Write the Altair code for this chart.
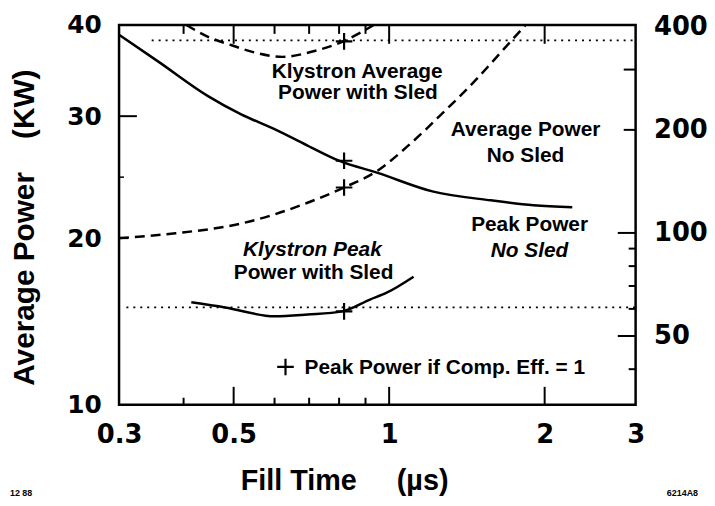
import altair as alt
import pandas as pd

# ---------------- data ----------------
# Fill time (us) and powers
peak_nosled_t = [0.3, 0.358, 0.446, 0.517, 0.600, 0.695, 0.804, 0.947, 1.218, 1.574, 1.903, 2.262]
peak_nosled_p = [379, 316, 251, 222, 201, 180, 162, 150, 132, 124.5, 120.4, 118.8]      # MW (right axis)

avg_nosled_t = [0.3, 0.386, 0.517, 0.600, 0.695, 0.818, 0.947, 1.090, 1.262, 1.473, 1.682, 1.837]
avg_nosled_p = [20.0, 20.4, 21.2, 21.95, 22.9, 24.15, 25.5, 27.6, 30.2, 34.0, 37.6, 40.0]  # kW (left axis)

klys_avg_t = [0.405, 0.446, 0.494, 0.552, 0.622, 0.717, 0.811, 0.886, 0.934]
klys_avg_p = [40.0, 38.7, 37.8, 36.95, 36.5, 37.15, 38.15, 39.25, 40.0]                  # kW (left axis)

klys_peak_t = [0.414, 0.481, 0.600, 0.695, 0.811, 0.918, 0.989, 1.115]
klys_peak_p = [62.7, 60.6, 57.1, 57.8, 59.0, 63.9, 66.9, 74.5]                          # MW (right axis)

avg_limit_t = [0.347, 3.0]
avg_limit_p = [38.3, 38.3]
peak_limit_t = [0.31, 3.0]
peak_limit_p = [60.6, 60.6]

cross_t = 0.818
cross_left_p = [24.15, 38.2]
cross_right_p = [162.5, 59.0]
legend_cross_t = [0.630]
legend_cross_p = [40.6]

# axis tick values
x_labels = [0.3, 0.5, 1, 2, 3]
left_labels = [10, 20, 30, 40]
right_labels = [50, 100, 200, 400]
x_ticks_long = [0.5, 1, 2]
x_ticks_short = [0.4, 0.6, 0.7, 0.8, 0.9]
right_ticks_long = [50, 100]
right_ticks_mid = [200, 300]
right_ticks_short = [40, 60, 70, 80, 90]
left_ticks_long = [30]
left_ticks_mid = [20]
left_ticks_short = [25]

# annotations
ann_text = ["Klystron Average", "Power with Sled", "Average Power", "No Sled", "Peak Power", "Power with Sled"]
ann_t = [0.867, 0.870, 1.837, 1.837, 1.870, 0.714]
ann_p = [284.0, 246.0, 192.0, 161.5, 101.0, 73.5]
ann_it_text = ["No Sled", "Klystron Peak"]
ann_it_t = [1.870, 0.710]
ann_it_p = [85.3, 85.5]
legend_text = ["Peak Power if Comp. Eff. = 1"]
legend_t = [0.686]
legend_p = [38.8]

W, H = 521, 383
FONT = "Liberation Sans"
NUMFONT = "DejaVu Sans"

# ---------------- scales & axes ----------------
xs = alt.Scale(type="log", domain=[0.3, 3])
x_axis = alt.Axis(values=x_labels, format=".1~f", domain=False, ticks=False, grid=False,
                  labelFont=NUMFONT, labelFontSize=26, labelFontWeight="bold", labelColor="black",
                  labelPadding=17, labelFlush=False, labelOverlap=False,
                  title="Fill Time\u00a0\u00a0\u00a0\u00a0\u00a0(\u00b5s)", titleFont=FONT, titleFontSize=29,
                  titleFontWeight="bold", titleColor="black", titleX=227, titleY=86,
                  titleAlign="center", titleBaseline="alphabetic")

ls = alt.Scale(type="linear", domain=[10, 20, 30, 40], range=[H, 215, 92, 0])
left_axis = alt.Axis(orient="left", values=left_labels, format="d", domain=False, ticks=False, grid=False,
                     labelFont=NUMFONT, labelFontSize=25, labelFontWeight="bold", labelColor="black",
                     labelPadding=18, labelFlush=False, labelOverlap=False,
                     title="Average Power\u00a0\u00a0\u00a0\u00a0(KW)", titleFont=FONT, titleFontSize=30,
                     titleFontWeight="bold", titleColor="black", titleAngle=270,
                     titleX=-95, titleY=204, titleAlign="center", titleBaseline="middle")

rs = alt.Scale(type="log", domain=[31.5, 405])
right_axis = alt.Axis(orient="right", values=right_labels, format="d", domain=False, ticks=False, grid=False,
                      labelFont=NUMFONT, labelFontSize=26, labelFontWeight="bold", labelColor="black",
                      labelPadding=18, labelFlush=False, labelOverlap=False, title=None)


def X(f):
    return alt.X(f, type="quantitative", scale=xs, axis=x_axis)


def YL(f):
    return alt.Y(f, type="quantitative", scale=ls, axis=left_axis)


def YR(f):
    return alt.Y(f, type="quantitative", scale=rs, axis=right_axis)


def df(t, p):
    return pd.DataFrame({"t": t, "p": p})


cross_shape = "M-1,0L1,0M0,-1L0,1"

# ---------------- left (average power) group ----------------
l_avg = alt.Chart(df(avg_nosled_t, avg_nosled_p)).mark_line(
    color="black", strokeWidth=2.5, strokeDash=[10, 6], interpolate="monotone").encode(x=X("t"), y=YL("p"))
l_kavg = alt.Chart(df(klys_avg_t, klys_avg_p)).mark_line(
    color="black", strokeWidth=2.5, strokeDash=[10, 6], interpolate="monotone").encode(x=X("t"), y=YL("p"))
l_lim = alt.Chart(df(avg_limit_t, avg_limit_p)).mark_line(
    color="black", strokeWidth=1.8, strokeDash=[2, 5]).encode(x=X("t"), y=YL("p"))
l_cross = alt.Chart(df([cross_t] * len(cross_left_p), cross_left_p)).mark_point(
    shape=cross_shape, filled=False, size=280, strokeWidth=2.2, color="black", opacity=1
).encode(x=X("t"), y=YL("p"))
l_tick_long = alt.Chart(pd.DataFrame({"v": left_ticks_long})).mark_rule(color="black", strokeWidth=2).encode(
    y=YL("v"), x=alt.value(0), x2=alt.value(18))
l_tick_mid = alt.Chart(pd.DataFrame({"v": left_ticks_mid})).mark_rule(color="black", strokeWidth=2).encode(
    y=YL("v"), x=alt.value(0), x2=alt.value(9))
l_tick_short = alt.Chart(pd.DataFrame({"v": left_ticks_short})).mark_rule(color="black", strokeWidth=1.5).encode(
    y=YL("v"), x=alt.value(0), x2=alt.value(5))

left_group = alt.layer(l_avg, l_kavg, l_lim, l_cross, l_tick_long, l_tick_mid, l_tick_short)

# ---------------- right (peak power) group ----------------
r_peak = alt.Chart(df(peak_nosled_t, peak_nosled_p)).mark_line(
    color="black", strokeWidth=2.5, interpolate="monotone").encode(x=X("t"), y=YR("p"))
r_kpeak = alt.Chart(df(klys_peak_t, klys_peak_p)).mark_line(
    color="black", strokeWidth=2.5, interpolate="monotone").encode(x=X("t"), y=YR("p"))
r_lim = alt.Chart(df(peak_limit_t, peak_limit_p)).mark_line(
    color="black", strokeWidth=1.8, strokeDash=[2, 5]).encode(x=X("t"), y=YR("p"))
r_cross = alt.Chart(df([cross_t] * len(cross_right_p) + legend_cross_t, cross_right_p + legend_cross_p)).mark_point(
    shape=cross_shape, filled=False, size=280, strokeWidth=2.2, color="black", opacity=1
).encode(x=X("t"), y=YR("p"))
r_tick_long = alt.Chart(pd.DataFrame({"v": right_ticks_long})).mark_rule(color="black", strokeWidth=2).encode(
    y=YR("v"), x=alt.value(W), x2=alt.value(W - 18))
r_tick_mid = alt.Chart(pd.DataFrame({"v": right_ticks_mid})).mark_rule(color="black", strokeWidth=2).encode(
    y=YR("v"), x=alt.value(W), x2=alt.value(W - 12))
r_tick_short = alt.Chart(pd.DataFrame({"v": right_ticks_short})).mark_rule(color="black", strokeWidth=2).encode(
    y=YR("v"), x=alt.value(W), x2=alt.value(W - 7))

xb_long = alt.Chart(pd.DataFrame({"t": x_ticks_long})).mark_rule(color="black", strokeWidth=2).encode(
    x=X("t"), y=alt.value(H), y2=alt.value(H - 18))
xb_short = alt.Chart(pd.DataFrame({"t": x_ticks_short})).mark_rule(color="black", strokeWidth=2).encode(
    x=X("t"), y=alt.value(H), y2=alt.value(H - 7))
xt_long = alt.Chart(pd.DataFrame({"t": x_ticks_long})).mark_rule(color="black", strokeWidth=2).encode(
    x=X("t"), y=alt.value(0), y2=alt.value(19))
xt_short = alt.Chart(pd.DataFrame({"t": x_ticks_short})).mark_rule(color="black", strokeWidth=2).encode(
    x=X("t"), y=alt.value(0), y2=alt.value(9))

ann = alt.Chart(pd.DataFrame({"t": ann_t, "p": ann_p, "txt": ann_text})).mark_text(
    font=FONT, fontWeight="bold", fontSize=21, color="black", align="center", baseline="alphabetic"
).encode(x=X("t"), y=YR("p"), text="txt:N")
ann_it = alt.Chart(pd.DataFrame({"t": ann_it_t, "p": ann_it_p, "txt": ann_it_text})).mark_text(
    font=FONT, fontWeight="bold", fontStyle="italic", fontSize=21, color="black", align="center",
    baseline="alphabetic"
).encode(x=X("t"), y=YR("p"), text="txt:N")
leg = alt.Chart(pd.DataFrame({"t": legend_t, "p": legend_p, "txt": legend_text})).mark_text(
    font=FONT, fontWeight="bold", fontSize=21, color="black", align="left", baseline="alphabetic"
).encode(x=X("t"), y=YR("p"), text="txt:N")

foot_l = alt.Chart(pd.DataFrame({"a": [0]})).mark_text(
    font=FONT, fontWeight="bold", fontSize=9, color="black", align="left", baseline="alphabetic"
).encode(x=alt.value(-110), y=alt.value(475), text=alt.value("12 88"))
foot_r = alt.Chart(pd.DataFrame({"a": [0]})).mark_text(
    font=FONT, fontWeight="bold", fontSize=9, color="black", align="right", baseline="alphabetic"
).encode(x=alt.value(584), y=alt.value(475), text=alt.value("6214A8"))

right_group = alt.layer(r_peak, r_kpeak, r_lim, r_cross, r_tick_long, r_tick_mid, r_tick_short,
                        xb_long, xb_short, xt_long, xt_short, ann, ann_it, leg, foot_l, foot_r)

chart = alt.layer(left_group, right_group).resolve_scale(y="independent").properties(
    width=W, height=H,
    padding={"left": 112, "top": 15, "right": 72, "bottom": 92},
    autosize=alt.AutoSizeParams(type="none"),
    background="white",
).configure_view(stroke="black", strokeWidth=2.5)

chart.save("out.html", embed_options={"renderer": "svg", "actions": False})
